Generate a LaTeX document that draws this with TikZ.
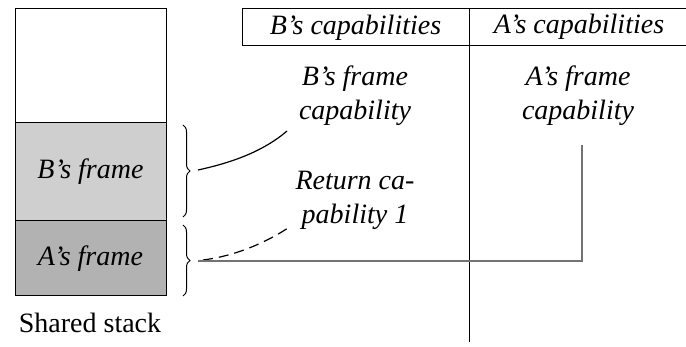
\documentclass[tikz,border=0pt]{standalone}
\usepackage{fontspec}
\setmainfont{Liberation Serif}
\newfontfamily\timesf{Liberation Serif}
\usetikzlibrary{decorations.pathreplacing}
\begin{document}
\begin{tikzpicture}[x=0.5pt,y=-0.5pt,
  tx/.style={font=\timesf\fontsize{14}{17}\selectfont\itshape, inner sep=0pt, outer sep=0pt},
  cell/.style={tx, draw, line width=0.5pt, minimum width=75.5pt, anchor=north west},
  lbl/.style={tx, align=center},
  bracestyle/.style={decorate, decoration={brace, amplitude=3.5pt}, line width=0.5pt},
  grayline/.style={draw=black!55, line width=0.9pt}]
\useasboundingbox (0,0) rectangle (686,347);
% texts
\node[font=\timesf\fontsize{14}{17}\selectfont] (shared) at (90,323) {Shared stack};
\node[lbl] (bcap) at (355,96) {B’s frame\\capability};
\node[lbl] (acap) at (578,96) {A’s frame\\capability};
\node[lbl] (ret) at (355,200) {Return ca-\\pability 1};
% stack
\node[cell, minimum height=57pt] (free) at (15,9) {};
\node[cell, minimum height=49pt, fill=black!19] (bframe) at (15,123) {B’s frame};
\node[cell, minimum height=37.5pt, fill=black!30] (aframe) at (15,221) {A’s frame};
% braces
\draw[bracestyle] (183,125) -- (183,217) coordinate[midway] (bmid);
\draw[bracestyle] (183,225) -- (183,296) coordinate[midway] (amid);
\coordinate (btip) at (198,170);
\coordinate (atip) at (203,260);
\coordinate (agray) at (198,261);
% header
\node[draw, line width=0.5pt, inner sep=0pt, outer sep=0pt, minimum width=113.5pt, minimum height=18.5pt, anchor=north west] (hb) at (242,9) {};
\node[tx] at (hb.center) {B’s capabilities};
\node[tx] (ha) at (579,27) {A’s capabilities};
\coordinate (rtop) at (686,9);
\coordinate (rbot) at (686,46);
\coordinate (vbot) at (469,342);
\draw[line width=0.5pt] (hb.north east) -- (rtop);
\draw[line width=0.5pt] (hb.south east) -- (rbot);
\draw[line width=0.5pt] (hb.north east) -- (vbot);
\coordinate (bcapend) at (287,131);
\coordinate (retend) at (288,228);
\coordinate (corner) at (582,261);
\coordinate (acapend) at (582,145);
% connectors
\draw[line width=0.6pt] (btip) .. controls (235,162) and (265,150) .. (bcapend);
\draw[line width=0.6pt, dashed, dash pattern=on 5pt off 3pt] (atip) .. controls (235,256) and (265,243) .. (retend);
\draw[grayline] (agray) -- (corner) -- (acapend);
\end{tikzpicture}
\end{document}
